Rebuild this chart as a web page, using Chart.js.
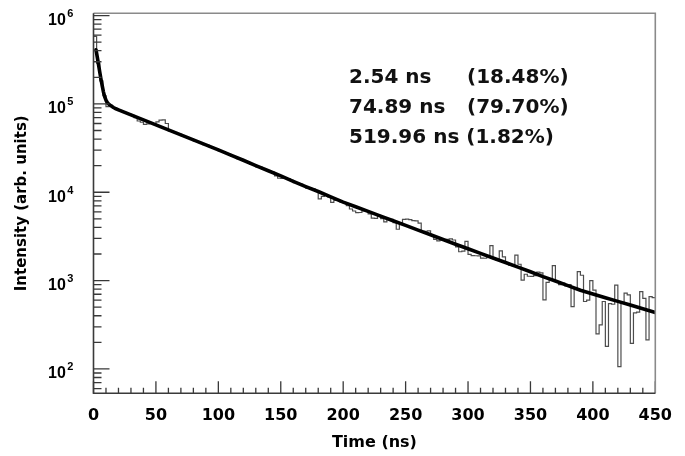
<!DOCTYPE html>
<html>
<head>
<meta charset="utf-8">
<script src="https://cdn.jsdelivr.net/npm/chart.js@4/dist/chart.umd.min.js"></script>
<style>
  html, body { margin: 0; padding: 0; background: #fff; }
  #wrap { width: 685px; height: 456px; }
</style>
</head>
<body>
<div id="wrap"><canvas id="decay" width="685" height="456"></canvas></div>
<script>
// histogram counts, one per 2.5 ns bin starting at t = 0
const histBinWidth = 2.5;
const histCounts = [
  580000, 290000, 182000, 124000, 93000, 96000, 91000, 87500, 84500, 81500,
  79000, 76500, 74000, 70000, 64000, 62000, 58500, 59500, 60500, 59000,
  62500, 65500, 66000, 60000, 49500, 48300, 46300, 45700, 43600, 42700,
  40600, 39900, 38200, 37500, 35800, 34600, 34100, 32500, 31300, 30800,
  29400, 28900, 27500, 26900, 25600, 25200, 23900, 23500, 22300, 22000,
  20800, 20500, 19400, 19300, 18200, 17900, 17200, 16900, 15300, 14400,
  14300, 14500, 14300, 13600, 12800, 12700, 12400, 11800, 11150, 11100,
  10900, 10300, 8400, 8980, 9330, 8840, 7680, 8090, 8150, 7710,
  7630, 7030, 6460, 6130, 5870, 5900, 6160, 6170, 5670, 5100,
  5060, 5460, 5020, 4620, 4980, 4930, 4540, 3810, 4410, 4920,
  4970, 4900, 4760, 4730, 4470, 3560, 3620, 3650, 3240, 2930,
  2810, 2870, 2870, 2930, 2970, 2880, 2410, 2120, 2150, 2780,
  1980, 1920, 1910, 1900, 1800, 1790, 1880, 2490, 1770, 1690,
  2170, 1860, 1600, 1500, 1480, 1940, 1530, 1010, 1180, 1120,
  1115, 1140, 1250, 1220, 605, 955, 1030, 1480, 975, 900,
  935, 870, 900, 508, 820, 1260, 1150, 580, 600, 1000,
  780, 250, 315, 580, 180, 550, 540, 890, 106, 560,
  720, 690, 195, 430, 440, 750, 630, 213, 660, 640
];

// three-exponential fit curve
const fitTimes = [2, 3, 4, 5, 6, 7, 8, 9, 10, 11, 12, 14, 16, 18, 20, 25, 30, 40, 50, 60, 70, 80, 90, 100,
  110, 120, 130, 140, 150, 160, 170, 180, 190, 200, 210, 220, 230, 240, 250, 260, 270, 280, 290, 300,
  310, 320, 330, 340, 350, 360, 370, 380, 390, 400, 410, 420, 430, 440, 450];
const fitValues = [410000, 340000, 280000, 230000, 190000, 160000, 136000, 120000, 110000, 104000, 100000, 95000, 91000, 88000, 85700, 80200, 75000, 65800, 57800, 50700, 44600, 39100, 34400, 30100,
  26300, 23000, 20000, 17500, 15300, 13300, 11600, 10200, 8870, 7740, 6850, 6070, 5370, 4750, 4210, 3720, 3300, 2920, 2580, 2290,
  2030, 1800, 1600, 1420, 1260, 1110, 989, 877, 778, 706, 641, 582, 528, 480, 436];

const xMajorTicks = [0, 50, 100, 150, 200, 250, 300, 350, 400, 450];
const yMajorTicks = [100, 1000, 10000, 100000, 1000000];
const yExponents = ['2', '3', '4', '5', '6'];

const fitLines = [
  ['2.54 ns', '(18.48%)'],
  ['74.89 ns', '(79.70%)'],
  ['519.96 ns', '(1.82%)']
];

const histPoints = histCounts.map((v, i) => ({x: i * histBinWidth, y: v}));
histPoints.push({x: histCounts.length * histBinWidth, y: histCounts[histCounts.length - 1]});
const fitPoints = fitTimes.map((t, i) => ({x: t, y: fitValues[i]}));

const MAIN_FONT = 'DejaVu Sans';

const framePlugin = {
  id: 'frame',
  afterDatasetsDraw(chart) {
    const {ctx, chartArea: a, scales: {x, y}} = chart;
    ctx.save();
    // inward ticks
    ctx.strokeStyle = '#383838';
    ctx.lineWidth = 1.3;
    ctx.beginPath();
    for (let v = x.min; v <= x.max; v += 10) {
      const px = x.getPixelForValue(v);
      const len = xMajorTicks.includes(v) ? 12 : 5.5;
      ctx.moveTo(px, a.bottom);
      ctx.lineTo(px, a.bottom - len);
    }
    for (let d = 10; d <= 1e6; d *= 10) {
      for (let m = 1; m <= 9; m++) {
        const v = m * d;
        if (v < y.min || v > y.max) continue;
        const py = y.getPixelForValue(v);
        const len = m === 1 ? 16 : 8;
        ctx.moveTo(a.left, py);
        ctx.lineTo(a.left + len, py);
      }
    }
    ctx.stroke();
    // box
    ctx.lineWidth = 1.6;
    ctx.strokeStyle = '#8a8a8a';
    ctx.beginPath();
    ctx.moveTo(a.left, a.top);
    ctx.lineTo(a.right, a.top);
    ctx.lineTo(a.right, a.bottom);
    ctx.stroke();
    ctx.strokeStyle = '#3a3a3a';
    ctx.beginPath();
    ctx.moveTo(a.left, a.top);
    ctx.lineTo(a.left, a.bottom);
    ctx.lineTo(a.right, a.bottom);
    ctx.stroke();

    // y tick labels 10^n
    ctx.fillStyle = '#000';
    ctx.textBaseline = 'alphabetic';
    ctx.textAlign = 'left';
    yMajorTicks.forEach((v, i) => {
      const py = y.getPixelForValue(v);
      ctx.font = 'bold 16px "Liberation Sans"';
      ctx.fillText('10', 48, py + 9.5);
      const w = ctx.measureText('10').width;
      ctx.font = 'bold 11px "Liberation Sans"';
      ctx.fillText(yExponents[i], 48 + w + 1.5, py + 1.5);
    });

    // lifetimes annotation
    ctx.font = 'bold 20px "' + MAIN_FONT + '"';
    ctx.fillStyle = '#111';
    fitLines.forEach((row, i) => {
      const by = 82.5 + i * 30;
      if (i < 2) {
        ctx.fillText(row[0], 349, by);
        ctx.fillText(row[1], 467, by);
      } else {
        ctx.fillText(row[0] + ' ' + row[1], 349, by);
      }
    });
    ctx.restore();
  }
};

new Chart(document.getElementById('decay'), {
  type: 'line',
  data: {
    datasets: [
      {
        label: 'fit',
        data: fitPoints,
        borderColor: '#000',
        borderWidth: 3.6,
        borderCapStyle: 'round',
        borderJoinStyle: 'round',
        pointRadius: 0,
        tension: 0,
        order: 0
      },
      {
        label: 'decay',
        data: histPoints,
        stepped: true,
        borderColor: '#4d4d4d',
        borderWidth: 1.2,
        pointRadius: 0,
        order: 1
      }
    ]
  },
  options: {
    responsive: false,
    animation: false,
    events: [],
    layout: {padding: {top: 13.3, right: 29, left: 0, bottom: 0}},
    plugins: {legend: {display: false}, tooltip: {enabled: false}},
    scales: {
      x: {
        type: 'linear',
        min: 0,
        max: 450,
        afterBuildTicks: s => { s.ticks = xMajorTicks.map(v => ({value: v})); },
        afterFit: s => { s.height = 62.7; },
        ticks: {
          autoSkip: false,
          maxRotation: 0,
          padding: 13,
          color: '#000',
          font: {family: MAIN_FONT, size: 16, weight: 'bold'}
        },
        grid: {display: false, drawTicks: false},
        border: {display: false},
        title: {
          display: true,
          text: 'Time (ns)',
          color: '#000',
          font: {family: MAIN_FONT, size: 16, weight: 'bold'},
          padding: {top: 0, bottom: 4}
        }
      },
      y: {
        type: 'logarithmic',
        min: 53,
        max: 1.06e6,
        afterFit: s => { s.width = 93.5; },
        ticks: {display: false},
        grid: {display: false, drawTicks: false},
        border: {display: false},
        title: {
          display: true,
          text: 'Intensity (arb. units)',
          color: '#000',
          font: {family: MAIN_FONT, size: 15, weight: 'bold'},
          padding: {top: 13, bottom: 0}
        }
      }
    }
  },
  plugins: [framePlugin]
});
</script>
</body>
</html>
